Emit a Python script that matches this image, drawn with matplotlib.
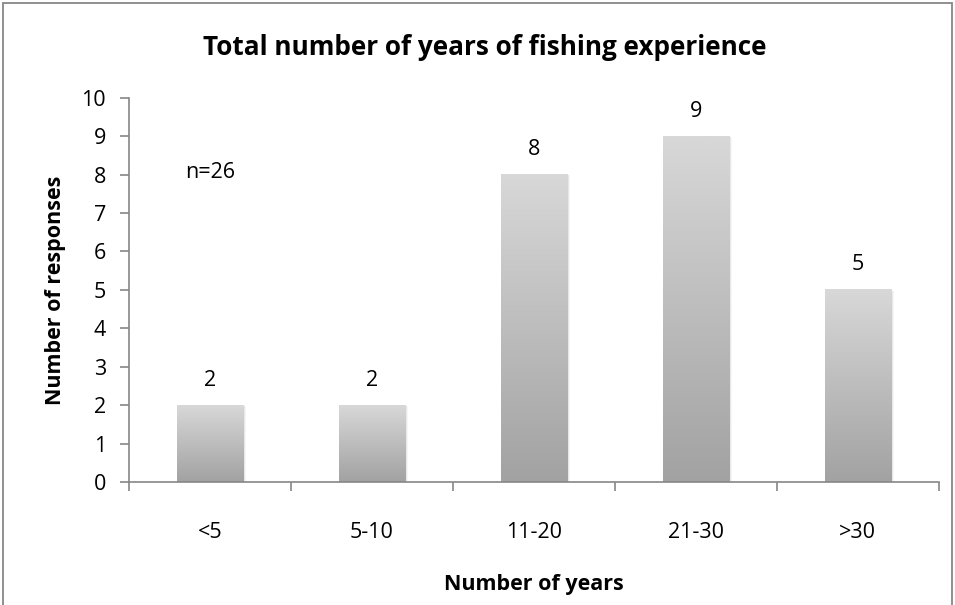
import numpy as np
import matplotlib.pyplot as plt
from matplotlib.patches import Rectangle
from matplotlib.colors import LinearSegmentedColormap

# reponses par tranche d'experience
categories = ['<5', '5-10', '11-20', '21-30', '>30']
responses = [2, 2, 8, 9, 5]

plt.rcParams['font.family'] = ['Open Sans', 'DejaVu Sans']

fig = plt.figure(figsize=(9.55, 6.05), dpi=100)
ax = fig.add_axes([0.135, 0.2033, 0.848, 0.635])

# degrade gris clair en haut -> gris fonce en bas
grad = LinearSegmentedColormap.from_list('g', ['#a2a2a2', '#d8d8d8'])
x = np.arange(len(categories))
bars = ax.bar(x, responses, width=0.41, color='none', edgecolor='none')
ramp = np.linspace(0, 1, 256).reshape(-1, 1)
for b in bars:
    x0, y0 = b.get_x(), b.get_y()
    w, h = b.get_width(), b.get_height()
    # ombre douce a droite
    for k, a in enumerate([0.10, 0.06, 0.03]):
        d = 0.006 * (k + 1)
        ax.add_patch(Rectangle((x0 + d, y0), w, h - 0.02, color='k', alpha=a,
                               linewidth=0, zorder=1))
    ax.imshow(ramp, cmap=grad, origin='lower', aspect='auto',
              extent=(x0, x0 + w, y0, y0 + h), zorder=2)
    ax.text(x0 + w / 2, h + 0.65, f'{int(h)}', ha='center', va='center', fontsize=15.5)

ax.set_xlim(-0.5, len(categories) - 0.5)
ax.set_ylim(0, 10)
ax.set_yticks(range(0, 11))
ax.set_xticks(x)
ax.set_xticklabels(categories)
ax.set_xticks(np.arange(-0.5, len(categories)), minor=True)
ax.tick_params(axis='x', which='major', length=0, pad=29, labelsize=15.5)
ax.tick_params(axis='x', which='minor', length=6.5, color='#868686', width=1.2)
ax.tick_params(axis='y', length=6.5, color='#868686', width=1.2, labelsize=15.5, pad=10)

for s in ['top', 'right']:
    ax.spines[s].set_visible(False)
for s in ['left', 'bottom']:
    ax.spines[s].set_color('#868686')
    ax.spines[s].set_linewidth(1.2)

fig.text(0.508, 0.921, 'Total number of years of fishing experience', fontsize=18.8,
         fontweight='bold', ha='center', va='center')
ax.set_xlabel('Number of years', fontsize=15.5, fontweight='bold', labelpad=22)
ax.set_ylabel('Number of responses', fontsize=15.5, fontweight='bold', labelpad=11)
ax.text(0, 8.05, 'n=26', ha='center', va='center', fontsize=15.5)

# cadre autour du graphique
fig.patches.append(Rectangle((0.003, -0.01), 0.994, 1.005, transform=fig.transFigure,
                             fill=False, edgecolor='#878787', linewidth=1.3))

fig.savefig('out.png', dpi=100)
